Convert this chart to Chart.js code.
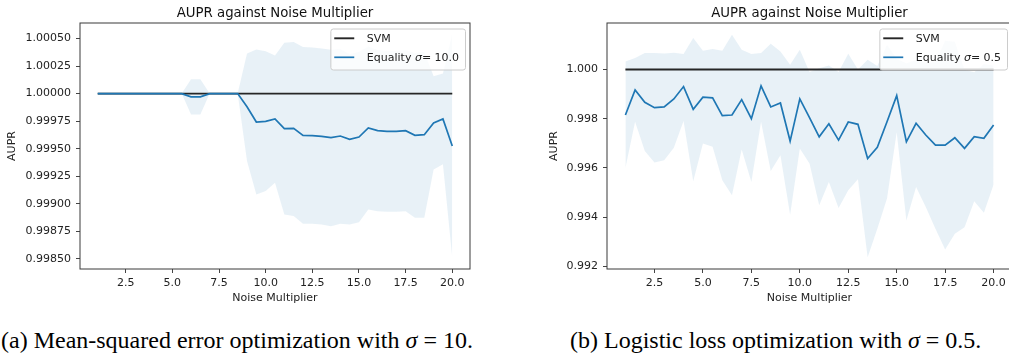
<!DOCTYPE html>
<html><head><meta charset="utf-8">
<script src="https://cdn.jsdelivr.net/npm/chart.js@4/dist/chart.umd.min.js"></script>
<style>
html,body{margin:0;padding:0;width:1009px;height:353px;overflow:hidden;background:#fff;}
#c1{position:absolute;left:0;top:0;}
#c2{position:absolute;left:510px;top:0;}
.cap{position:absolute;top:328px;font-family:"Liberation Serif","DejaVu Serif",serif;font-size:24px;color:#000;white-space:nowrap;line-height:1;}
</style></head>
<body>
<canvas id="c1" width="500" height="310"></canvas>
<canvas id="c2" width="520" height="310"></canvas>
<div class="cap" style="left:1px">(a) Mean-squared error optimization with <i>σ</i> = 10.</div>
<div class="cap" style="left:570px">(b) Logistic loss optimization with <i>σ</i> = 0.5.</div>
<script>
const noiseMultiplier = [1,1.5,2,2.5,3,3.5,4,4.5,5,5.5,6,6.5,7,7.5,8,8.5,9,9.5,10,10.5,11,11.5,12,12.5,13,13.5,14,14.5,15,15.5,16,16.5,17,17.5,18,18.5,19,19.5,20];
const xTicks = [2.5,5,7.5,10,12.5,15,17.5,20];
const chartTitle = 'AUPR against Noise Multiplier';
const xLabel = 'Noise Multiplier';
const yLabel = 'AUPR';

// (a) Mean-squared error, sigma = 10
const mseSvm = [1,1,1,1,1,1,1,1,1,1,1,1,1,1,1,1,1,1,1,1,1,1,1,1,1,1,1,1,1,1,1,1,1,1,1,1,1,1,1];
const mseMean = [1,1,1,1,1,1,1,1,1,1,0.99997,0.99997,1,1,1,1,0.99988,0.999742,0.999748,0.99977,0.999682,0.999685,0.999621,0.999618,0.999612,0.9996,0.999615,0.999585,0.999606,0.999688,0.999664,0.999658,0.999658,0.999664,0.999621,0.999627,0.999733,0.99977,0.999524];
const mseUpper = [1,1,1,1,1,1,1,1,1,1,1.00013,1.00013,1,1,1,1,1.000365,1.0004,1.000385,1.000345,1.000462,1.000468,1.000424,1.000418,1.00041,1.000398,1.000406,1.000358,1.000379,1.000428,1.000395,1.000389,1.000389,1.000395,1.000369,1.000381,1.000157,1.000182,1.000545];
const mseLower = [1,1,1,1,1,1,1,1,1,1,0.99981,0.99981,1,1,1,1,0.999388,0.999085,0.999115,0.999191,0.998903,0.998888,0.998818,0.998818,0.998812,0.998797,0.998818,0.998812,0.998833,0.998948,0.998933,0.998927,0.998927,0.998933,0.998873,0.998873,0.999312,0.999358,0.998509];
const mseYTicks = [0.9985,0.99875,0.999,0.99925,0.9995,0.99975,1.0,1.00025,1.0005];

// (b) Logistic loss, sigma = 0.5
const logSvm = [1,1,1,1,1,1,1,1,1,1,1,1,1,1,1,1,1,1,1,1,1,1,1,1,1,1,1,1,1,1,1,1,1,1,1,1,1,1,1];
const logMean = [0.998151,0.999171,0.998669,0.998449,0.998478,0.998804,0.999306,0.998384,0.998873,0.998845,0.998122,0.998151,0.998776,0.998,0.999335,0.998478,0.998641,0.99709,0.998804,0.99804,0.997265,0.997796,0.997131,0.997865,0.997771,0.996384,0.996833,0.997878,0.998939,0.997061,0.997812,0.997335,0.996927,0.996927,0.997225,0.996792,0.997265,0.9972,0.997743];
const logUpper = [1.000327,1.000465,1.000669,1.000669,1.000653,1.000682,1.000629,1.001282,1.000763,1.000833,1.000763,1.001416,1.000804,1.000629,1.000669,1.001049,1.000735,1.000192,1.000804,0.9999,1.000052,1.000163,0.999895,1.00064,1.000003,1.000401,1.000139,1.001005,1.000433,1.000257,1.000399,1.000262,1.000327,1.001172,1.001128,0.999992,0.999889,1.00022,1.000163];
const logLower = [0.996,0.997878,0.996682,0.99622,0.996314,0.996816,0.997906,0.995457,0.996996,0.996857,0.995498,0.994886,0.996751,0.995429,0.997878,0.995878,0.996518,0.994098,0.996792,0.99618,0.994478,0.995429,0.994367,0.99509,0.995539,0.992367,0.993527,0.994751,0.997445,0.993865,0.995225,0.994408,0.993527,0.992682,0.993322,0.993592,0.994641,0.99418,0.995323];
const logYTicks = [0.992,0.994,0.996,0.998,1.0];

Chart.defaults.font.family = '"DejaVu Sans", sans-serif';
Chart.defaults.color = '#222';

function pts(arr){ return noiseMultiplier.map((x,i)=>({x:x, y:arr[i]})); }

function decor(d){
  return {
    id:'decor',
    afterDraw(chart){
      const ctx = chart.ctx, a = chart.chartArea;
      ctx.save();
      ctx.strokeStyle = '#3a3a3a'; ctx.lineWidth = 1;
      ctx.strokeRect(a.left, a.top, a.right - a.left, a.bottom - a.top);
      ctx.fillStyle = '#111';
      ctx.font = '13.3px "DejaVu Sans"';
      ctx.textAlign = 'center'; ctx.textBaseline = 'alphabetic';
      ctx.fillText(chartTitle, (a.left + a.right)/2, 16.5);
      const ds = chart.data.datasets;
      const meanLbl = ds[0].label, svmLbl = ds[1].label;
      const parts = meanLbl.split('σ');
      const pre = parts[0], suf = parts[1].replace(/^ /,'');
      const fN = '11px "DejaVu Sans"', fI = 'italic 11px "DejaVu Sans"';
      ctx.font = fN; const w1 = ctx.measureText(pre).width, w3 = ctx.measureText(suf).width;
      ctx.font = fI; const w2 = ctx.measureText('σ').width;
      const boxW = 36 + w1 + w2 + w3 + 6.4, boxH = 41;
      const bR = a.right - 4.5, bL = bR - boxW, bT = a.top + 6;
      ctx.beginPath();
      ctx.roundRect(bL, bT, boxW, boxH, 2.5);
      ctx.fillStyle = 'rgba(255,255,255,0.8)'; ctx.fill();
      ctx.strokeStyle = '#cccccc'; ctx.lineWidth = 1; ctx.stroke();
      const y1 = bT + 9.3, y2 = bT + 28.3;
      ctx.lineWidth = ds[1].borderWidth; ctx.strokeStyle = ds[1].borderColor;
      ctx.beginPath(); ctx.moveTo(bL + 3.4, y1); ctx.lineTo(bL + 23.4, y1); ctx.stroke();
      ctx.lineWidth = ds[0].borderWidth; ctx.strokeStyle = ds[0].borderColor;
      ctx.beginPath(); ctx.moveTo(bL + 3.4, y2); ctx.lineTo(bL + 23.4, y2); ctx.stroke();
      ctx.fillStyle = '#222'; ctx.textAlign = 'left';
      ctx.font = fN; ctx.fillText(svmLbl, bL + 36, y1 + 4);
      let tx = bL + 36;
      ctx.fillText(pre, tx, y2 + 4); tx += w1;
      ctx.font = fI; ctx.fillText('σ', tx, y2 + 4); tx += w2;
      ctx.font = fN; ctx.fillText(suf, tx, y2 + 4);
      ctx.restore();
    }
  };
}

function buildChart(id, d){
  return new Chart(document.getElementById(id), {
    type:'line',
    data:{ datasets:[
      {label:d.meanLabel, data:pts(d.mean), borderColor:'#1f77b4', borderWidth:1.7, pointRadius:0, tension:0, fill:false},
      {label:'SVM', data:pts(d.svm), borderColor:'#262626', borderWidth:1.9, pointRadius:0, tension:0, fill:false},
      {label:'upper', data:pts(d.upper), borderColor:'rgba(0,0,0,0)', borderWidth:0, pointRadius:0, tension:0, fill:false},
      {label:'lower', data:pts(d.lower), borderColor:'rgba(0,0,0,0)', borderWidth:0, pointRadius:0, tension:0, fill:'-1', backgroundColor:'rgba(31,119,180,0.1)'}
    ]},
    options:{
      responsive:false, animation:false, events:[],
      layout:{padding:d.pad},
      plugins:{legend:{display:false}, tooltip:{enabled:false}, title:{display:false}},
      scales:{
        x:{type:'linear', min:0.05, max:20.95,
          afterBuildTicks:s=>{ s.ticks = xTicks.map(v=>({value:v})); },
          afterFit:s=>{ s.height = d.xH; },
          ticks:{callback:v=>Number(v).toFixed(1), font:{size:11}, color:'#222', padding:4, maxRotation:0, autoSkip:false},
          grid:{drawOnChartArea:false, drawTicks:true, tickLength:4, color:'#444'},
          border:{display:false},
          title:{display:true, text:xLabel, font:{size:11}, color:'#222', padding:{top:4,bottom:4}}
        },
        y:{type:'linear', min:d.yMin, max:d.yMax,
          afterBuildTicks:s=>{ s.ticks = d.yTicks.map(v=>({value:v})); },
          afterFit:s=>{ s.width = d.yW; },
          ticks:{callback:v=>Number(v).toFixed(d.dec), font:{size:11}, color:'#222', padding:5, autoSkip:false},
          grid:{drawOnChartArea:false, drawTicks:true, tickLength:4, color:'#444'},
          border:{display:false},
          title:{display:true, text:yLabel, font:{size:11}, color:'#222', padding:{top:4,bottom:4}}
        }
      }
    },
    plugins:[decor(d)]
  });
}

buildChart('c1', {svm:mseSvm, mean:mseMean, upper:mseUpper, lower:mseLower, yTicks:mseYTicks, dec:5,
  yMin:0.998408, yMax:1.000641, meanLabel:'Equality σ = 10.0',
  pad:{left:2, top:23, right:30, bottom:1.4}, yW:78, xH:39.6});
buildChart('c2', {svm:logSvm, mean:logMean, upper:logUpper, lower:logLower, yTicks:logYTicks, dec:3,
  yMin:0.99189, yMax:1.00189, meanLabel:'Equality σ = 0.5',
  pad:{left:34, top:23, right:18, bottom:1.4}, yW:63, xH:39.6});
</script>
</body></html>
